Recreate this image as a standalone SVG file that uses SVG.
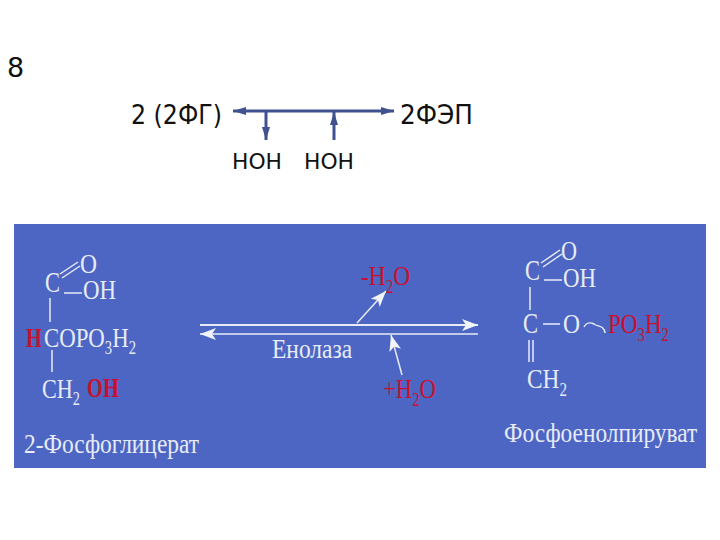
<svg xmlns="http://www.w3.org/2000/svg" width="720" height="540" viewBox="0 0 720 540">
<style>
.top{font-family:"DejaVu Sans",sans-serif;font-size:27px;fill:#111}
.h{font-family:"DejaVu Sans",sans-serif;font-size:21px;fill:#111}
.t{font-family:"Liberation Serif",serif;font-size:28px;fill:#e8ecf6}
.c{font-family:"Liberation Serif",serif;font-size:30px;fill:#e8ecf6}
.r{font-family:"Liberation Serif",serif;font-size:28px;fill:#c8102e}
.l{font-family:"Liberation Serif",serif;font-size:27px;fill:#e8ecf6}
.s{font-size:18px}
.b{stroke:#e8ecf6;stroke-width:2;fill:none}
.th{stroke:#e8ecf6;stroke-width:1.5;fill:none}
.n{stroke:#3f5190;stroke-width:3;fill:none}
</style>
<defs>
<marker id="w" markerUnits="userSpaceOnUse" markerWidth="18" markerHeight="14" refX="16" refY="7" orient="auto-start-reverse"><path d="M0 1L16 7L0 13L4 7Z" fill="#f2f4fb"/></marker>
<marker id="d" markerUnits="userSpaceOnUse" markerWidth="14" markerHeight="10" refX="13" refY="5" orient="auto-start-reverse"><path d="M0 1L13 5L0 9Z" fill="#3f5190"/></marker>
</defs>
<rect width="720" height="540" fill="#fff"/>
<rect x="14" y="224" width="692" height="244" fill="#4d66c4"/>
<g id="connectors">
<path class="n" d="M233 111H394" marker-start="url(#d)" marker-end="url(#d)"/>
<path class="n" d="M266 111V140" marker-end="url(#d)"/>
<path class="n" d="M334 140V112" marker-end="url(#d)"/>
<path class="b" d="M200 325H478" marker-end="url(#w)"/>
<path class="th" d="M200 334H478" marker-start="url(#w)"/>
<path class="th" d="M357 323L386 291" marker-end="url(#w)"/>
<path class="th" d="M402 375L391 335" marker-end="url(#w)"/>
</g>
<g id="step-number"><text class="top" x="7" y="77">8</text></g>
<g id="scheme-left"><text class="top" x="131" y="124" textLength="91" lengthAdjust="spacingAndGlyphs">2 (2ФГ)</text></g>
<g id="scheme-right"><text class="top" x="400" y="124" textLength="73" lengthAdjust="spacingAndGlyphs">2ФЭП</text></g>
<g id="hoh-1"><text class="h" x="232" y="169" textLength="50" lengthAdjust="spacingAndGlyphs">НОН</text></g>
<g id="hoh-2"><text class="h" x="304" y="169" textLength="50" lengthAdjust="spacingAndGlyphs">НОН</text></g>
<g id="substrate">
<text class="c" transform="translate(45 292) scale(.75 1)">C</text>
<text class="t" x="80" y="273" textLength="17" lengthAdjust="spacingAndGlyphs">O</text>
<text class="t" transform="translate(83 299) scale(.817 1)">OH</text>
<path class="th" d="M60 274L78 262M62 278L80 266M64 293H82M50 298V322M52 350V372"/>
<text class="r" font-weight="bold" transform="translate(26 347) scale(.73 1)">H</text>
<text class="t" transform="translate(44 347) scale(.815 1)">COPO<tspan class="s" dy="7">3</tspan><tspan dy="-7">H</tspan><tspan class="s" dy="7">2</tspan></text>
<text class="t" transform="translate(42 398) scale(.793 1)">CH<tspan class="s" dy="7">2</tspan></text>
<text class="r" font-weight="bold" transform="translate(87 397) scale(.73 1)">OH</text>
<text class="l" transform="translate(24 453) scale(.867 1)">2-Фосфоглицерат</text>
</g>
<g id="enzyme">
<text class="l" transform="translate(272 358) scale(.87 1)">Енолаза</text>
<text class="r" transform="translate(361 285) scale(.835 1)">-H<tspan class="s" dy="8">2</tspan><tspan dy="-8">O</tspan></text>
<text class="r" transform="translate(383 398) scale(.813 1)">+H<tspan class="s" dy="8">2</tspan><tspan dy="-8">O</tspan></text>
</g>
<g id="product">
<text class="c" transform="translate(525 280) scale(.75 1)">C</text>
<text class="t" x="561" y="260" textLength="16" lengthAdjust="spacingAndGlyphs">O</text>
<text class="t" transform="translate(563 287) scale(.817 1)">OH</text>
<path class="th" d="M541 263L560 250M543 267L562 254M544 280H562M530 287V310M543 324H560M529 340V362M533 340V362M584 327C586 323 590 322 594 324C598 327 604 325 605 333"/>
<text class="c" transform="translate(523 333) scale(.75 1)">C</text>
<text class="t" x="563" y="333" textLength="17" lengthAdjust="spacingAndGlyphs">O</text>
<text class="r" transform="translate(608 333) scale(.824 1)">PO<tspan class="s" dy="8">3</tspan><tspan dy="-8">H</tspan><tspan class="s" dy="8">2</tspan></text>
<text class="t" transform="translate(527 388) scale(.835 1)">CH<tspan class="s" dy="8">2</tspan></text>
<text class="l" transform="translate(504 442) scale(.866 1)">Фосфоенолпируват</text>
</g>
</svg>
